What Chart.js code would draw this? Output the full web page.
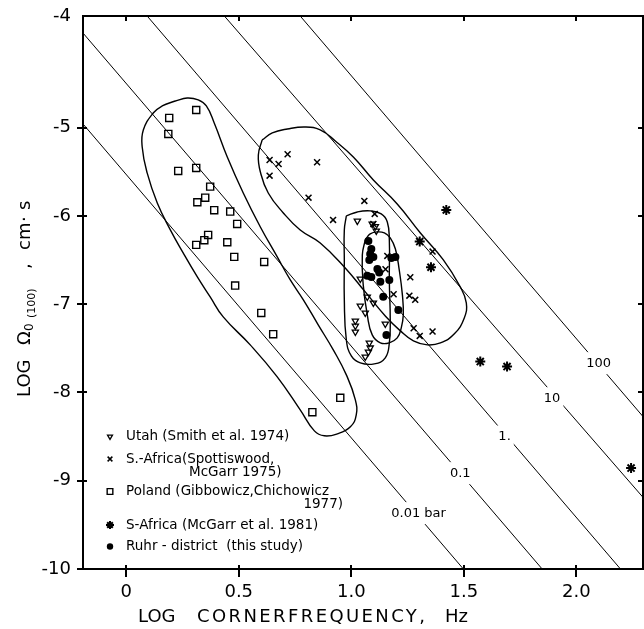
<!DOCTYPE html>
<html>
<head>
<meta charset="utf-8">
<script src="https://cdn.jsdelivr.net/npm/chart.js@4.4.1/dist/chart.umd.min.js"></script>
<style>
  html, body { margin: 0; padding: 0; background: #fff; }
  canvas { display: block; }
</style>
</head>
<body>
<canvas id="myChart" width="644" height="629"></canvas>
<script>
// axis ticks
const freqTicks = [0, 0.5, 1, 1.5, 2];
const freqTickLabels = ['0', '0.5', '1.0', '1.5', '2.0'];
const omegaTicks = [-10, -9, -8, -7, -6, -5, -3.735];
const omegaTickLabels = ['-10', '-9', '-8', '-7', '-6', '-5', '-4'];

// series: log corner frequency / log omega0(100)
const utahFreq = [1.027, 1.093, 1.107, 1.111, 1.04, 1.071, 1.098, 1.04, 1.062, 1.018, 1.018, 1.018, 1.151, 1.08, 1.084, 1.076, 1.062];
const utahOmega = [-6.057, -6.091, -6.119, -6.170, -6.713, -6.917, -6.985, -7.019, -7.099, -7.189, -7.246, -7.314, -7.223, -7.438, -7.494, -7.540, -7.597];

const spottFreq = [0.637, 0.677, 0.717, 0.637, 0.848, 0.81, 1.058, 0.919, 1.104, 1.098, 1.16, 1.152, 1.188, 1.262, 1.258, 1.284, 1.277, 1.304, 1.361, 1.361];
const spottOmega = [-5.366, -5.411, -5.301, -5.544, -5.392, -5.793, -5.830, -6.045, -5.977, -6.091, -6.453, -6.604, -6.887, -6.694, -6.903, -6.951, -7.272, -7.359, -7.310, -6.404];

const polandFreq = [0.311, 0.191, 0.187, 0.231, 0.311, 0.373, 0.351, 0.316, 0.391, 0.462, 0.493, 0.364, 0.347, 0.311, 0.449, 0.480, 0.613, 0.484, 0.6, 0.653, 0.827, 0.951];
const polandOmega = [-4.800, -4.890, -5.071, -5.490, -5.456, -5.668, -5.793, -5.845, -5.935, -5.951, -6.091, -6.215, -6.275, -6.328, -6.298, -6.464, -6.521, -6.789, -7.099, -7.340, -8.223, -8.061];

const mcgarrFreq = [1.422, 1.304, 1.354, 1.573, 1.692, 2.243];
const mcgarrOmega = [-5.932, -6.291, -6.581, -7.650, -7.707, -8.857];

const ruhrFreq = [1.076, 1.089, 1.084, 1.08, 1.098, 1.116, 1.124, 1.071, 1.089, 1.129, 1.169, 1.142, 1.178, 1.196, 1.209, 1.156];
const ruhrOmega = [-6.284, -6.374, -6.430, -6.498, -6.464, -6.600, -6.640, -6.679, -6.691, -6.747, -6.725, -6.917, -6.476, -6.464, -7.065, -7.348];

// constant stress drop lines (ends)
const stressLabels = ['0.01 bar', '0.1', '1.', '10', '100'];
const stressLineFreq = [[-0.192, 1.498], [-0.192, 1.848], [0.093, 2.196], [0.436, 2.296], [0.773, 2.296]];
const stressLineOmega = [[-4.958, -10.0], [-3.928, -10.0], [-3.735, -10.0], [-3.735, -9.188], [-3.735, -8.273]];
const stressLabelFreq = [1.299, 1.484, 1.681, 1.892, 2.099];
const stressLabelOmega = [-9.367, -8.914, -8.499, -8.065, -7.668];

// outlines round each group
const polandLoopFreq = [0.218, 0.271, 0.32, 0.356, 0.391, 0.449, 0.52, 0.596, 0.671, 0.729, 0.787, 0.853, 0.92, 0.978, 1.018, 1.022, 0.996, 0.938, 0.88, 0.836, 0.773, 0.671, 0.551, 0.431, 0.373, 0.316, 0.253, 0.196, 0.138, 0.093, 0.071, 0.076, 0.12, 0.16];
const polandLoopOmega = [-4.698, -4.664, -4.686, -4.754, -4.947, -5.332, -5.740, -6.125, -6.464, -6.725, -6.951, -7.234, -7.518, -7.801, -8.084, -8.254, -8.389, -8.469, -8.491, -8.435, -8.197, -7.823, -7.461, -7.144, -6.917, -6.691, -6.419, -6.158, -5.853, -5.513, -5.219, -5.026, -4.834, -4.754];

const spottLoopFreq = [0.604, 0.649, 0.716, 0.796, 0.862, 0.929, 1.009, 1.098, 1.204, 1.307, 1.409, 1.484, 1.511, 1.502, 1.458, 1.396, 1.338, 1.276, 1.218, 1.151, 1.062, 0.973, 0.862, 0.773, 0.698, 0.631, 0.596, 0.587];
const spottLoopOmega = [-5.139, -5.060, -5.015, -4.992, -5.026, -5.151, -5.332, -5.592, -5.864, -6.193, -6.498, -6.804, -6.985, -7.155, -7.336, -7.438, -7.461, -7.416, -7.302, -7.133, -6.861, -6.589, -6.306, -6.159, -5.966, -5.740, -5.502, -5.309];

const utahLoopFreq = [0.978, 1.027, 1.084, 1.133, 1.16, 1.169, 1.169, 1.173, 1.169, 1.151, 1.102, 1.04, 1.0, 0.978, 0.969, 0.969, 0.969];
const utahLoopOmega = [-6.000, -5.955, -5.943, -5.977, -6.068, -6.272, -6.725, -7.178, -7.438, -7.608, -7.676, -7.665, -7.586, -7.404, -6.951, -6.498, -6.159];

const ruhrLoopFreq = [1.062, 1.084, 1.116, 1.147, 1.173, 1.196, 1.213, 1.227, 1.231, 1.222, 1.204, 1.169, 1.129, 1.093, 1.071, 1.053, 1.049];
const ruhrLoopOmega = [-6.272, -6.204, -6.181, -6.193, -6.249, -6.374, -6.612, -6.895, -7.121, -7.268, -7.382, -7.438, -7.438, -7.348, -7.121, -6.781, -6.442];

const seriesNames = ['Utah (Smith et al. 1974)', 'S.-Africa(Spottiswood,', 'Poland (Gibbowicz,Chichowicz', 'S-Africa (McGarr et al. 1981)', 'Ruhr - district  (this study)'];

const FONT = '"DejaVu Sans", sans-serif';

const pts = (xs, ys) => xs.map((v, i) => ({ x: v, y: ys[i] }));
const loop = (xs, ys) => { const p = pts(xs, ys); p.push(p[0]); return p; };

const datasets = [];

stressLabels.forEach((name, i) => {
  datasets.push({
    label: name,
    data: pts(stressLineFreq[i], stressLineOmega[i]),
    showLine: true, borderColor: '#000', borderWidth: 1, pointRadius: 0,
  });
});

[[polandLoopFreq, polandLoopOmega], [spottLoopFreq, spottLoopOmega], [utahLoopFreq, utahLoopOmega], [ruhrLoopFreq, ruhrLoopOmega]].forEach(([xs, ys]) => {
  datasets.push({
    data: loop(xs, ys),
    showLine: true, tension: 0.45, borderColor: '#000', borderWidth: 1.4, pointRadius: 0,
  });
});

const markers = [
  { xs: utahFreq, ys: utahOmega, pointStyle: 'triangle', rotation: 180, radius: 3.6, bw: 1.3, fill: 'rgba(0,0,0,0)' },
  { xs: spottFreq, ys: spottOmega, pointStyle: 'crossRot', rotation: 0, radius: 4.2, bw: 1.5, fill: 'rgba(0,0,0,0)' },
  { xs: polandFreq, ys: polandOmega, pointStyle: 'rect', rotation: 0, radius: 5, bw: 1.4, fill: 'rgba(0,0,0,0)' },
  { xs: mcgarrFreq, ys: mcgarrOmega, pointStyle: 'star', rotation: 0, radius: 5, bw: 2, fill: 'rgba(0,0,0,0)' },
  { xs: ruhrFreq, ys: ruhrOmega, pointStyle: 'circle', rotation: 0, radius: 4, bw: 0, fill: '#000' },
];

markers.forEach((m, i) => {
  datasets.push({
    label: seriesNames[i],
    data: pts(m.xs, m.ys),
    showLine: false,
    pointStyle: m.pointStyle,
    rotation: m.rotation,
    pointRadius: m.radius,
    pointBorderWidth: m.bw,
    pointBorderColor: '#000',
    pointBackgroundColor: m.fill,
  });
});

const overlay = {
  id: 'overlay',
  afterDatasetsDraw(chart) {
    const { ctx, scales: { x, y } } = chart;
    ctx.save();
    // stress drop labels sit in a gap of their line
    ctx.font = '13px ' + FONT;
    ctx.textAlign = 'center';
    ctx.textBaseline = 'middle';
    stressLabels.forEach((t, i) => {
      const px = x.getPixelForValue(stressLabelFreq[i]);
      const py = y.getPixelForValue(stressLabelOmega[i]);
      const w = ctx.measureText(t).width + 6;
      ctx.fillStyle = '#fff';
      ctx.fillRect(px - w / 2, py - 11, w, 22);
      ctx.fillStyle = '#000';
      ctx.fillText(t, px, py);
    });

    // legend
    const rows = [436.5, 459, 491.5, 525, 546.5];
    ctx.font = '13.5px ' + FONT;
    ctx.textAlign = 'left';
    ctx.strokeStyle = '#000';
    markers.forEach((m, i) => {
      ctx.lineWidth = m.bw || 1;
      ctx.fillStyle = m.fill;
      Chart.helpers.drawPoint(ctx, {
        pointStyle: m.pointStyle, rotation: m.rotation,
        radius: m.radius * 0.8, borderWidth: m.bw,
      }, 110, rows[i]);
      ctx.fillStyle = '#000';
      ctx.fillText(seriesNames[i], 126, rows[i]);
    });
    ctx.fillText('McGarr 1975)', 189, 472);
    ctx.textAlign = 'right';
    ctx.fillText('1977)', 343, 504);
    ctx.restore();
  },
  afterDraw(chart) {
    const { ctx, chartArea: a, scales: { x, y } } = chart;
    ctx.save();
    // tick marks: crossing on the left and bottom, inward on top and right
    ctx.strokeStyle = '#000';
    ctx.lineWidth = 2;
    ctx.beginPath();
    freqTicks.forEach(v => {
      const px = Math.round(x.getPixelForValue(v));
      ctx.moveTo(px, a.bottom - 4); ctx.lineTo(px, a.bottom + 8);
      ctx.moveTo(px, a.top); ctx.lineTo(px, a.top + 5);
    });
    omegaTicks.slice(0, -1).forEach(v => {
      const py = Math.round(y.getPixelForValue(v));
      ctx.moveTo(a.left - 6, py); ctx.lineTo(a.left + 4, py);
      ctx.moveTo(a.right - 5, py); ctx.lineTo(a.right, py);
    });
    ctx.stroke();

    ctx.fillStyle = '#000';
    ctx.textBaseline = 'alphabetic';
    ctx.textAlign = 'left';
    // x title
    ctx.font = '18px ' + FONT;
    ctx.fillText('LOG', 138, 622);
    ctx.letterSpacing = '2.4px';
    ctx.fillText('CORNERFREQUENCY,', 197, 622);
    ctx.letterSpacing = '0px';
    ctx.fillText('Hz', 445, 622);
    // y title, rotated
    ctx.translate(30, 397);
    ctx.rotate(-Math.PI / 2);
    ctx.font = '18px ' + FONT;
    ctx.fillText('LOG', 0, 0);
    ctx.fillText('\u03A9', 52, 0);
    ctx.font = '12px ' + FONT;
    ctx.fillText('0', 66, 3);
    ctx.font = '11px ' + FONT;
    ctx.fillText('(100)', 79, 5);
    ctx.font = '18px ' + FONT;
    ctx.fillText(',', 128, 0);
    ctx.fillText('cm', 147, 0);
    ctx.fillText('\u00B7', 175, 0);
    ctx.fillText('s', 187, 0);
    ctx.restore();
  },
};

const axisLine = { color: '#000', width: 2 };
const noGrid = { drawOnChartArea: false, drawTicks: false };
// fixed box sizes, no extra label padding, so the plot area matches the figure
const fixSize = (w, h) => s => {
  if (w !== null) s.width = w;
  if (h !== null) s.height = h;
  s.paddingTop = 0; s.paddingBottom = 0; s.paddingLeft = 0; s.paddingRight = 0;
};

new Chart(document.getElementById('myChart').getContext('2d'), {
  type: 'scatter',
  data: { datasets },
  options: {
    responsive: false,
    animation: false,
    devicePixelRatio: 1,
    layout: { autoPadding: false, padding: { top: 16, right: 1, left: 0, bottom: 0 } },
    plugins: { legend: { display: false }, tooltip: { enabled: false } },
    scales: {
      x: {
        type: 'linear', position: 'bottom', min: -0.192, max: 2.296,
        afterBuildTicks: s => { s.ticks = freqTicks.map(v => ({ value: v })); },
        afterFit: fixSize(null, 60),
        ticks: {
          callback: (v, i) => freqTickLabels[i],
          color: '#000', font: { family: FONT, size: 18 }, padding: 13, maxRotation: 0, autoSkip: false,
        },
        grid: noGrid,
        border: axisLine,
      },
      x2: {
        type: 'linear', position: 'top', min: -0.192, max: 2.296,
        afterFit: fixSize(null, 0),
        ticks: { display: false },
        grid: noGrid,
        border: axisLine,
      },
      y: {
        type: 'linear', position: 'left', min: -10, max: -3.735,
        afterBuildTicks: s => { s.ticks = omegaTicks.map(v => ({ value: v })); },
        afterFit: fixSize(83, null),
        ticks: {
          callback: (v, i) => omegaTickLabels[i],
          color: '#000', font: { family: FONT, size: 18 }, padding: 12, autoSkip: false,
        },
        grid: noGrid,
        border: axisLine,
      },
      y2: {
        type: 'linear', position: 'right', min: -10, max: -3.735,
        afterFit: fixSize(0, null),
        ticks: { display: false },
        grid: noGrid,
        border: axisLine,
      },
    },
  },
  plugins: [overlay],
});
</script>
</body>
</html>
